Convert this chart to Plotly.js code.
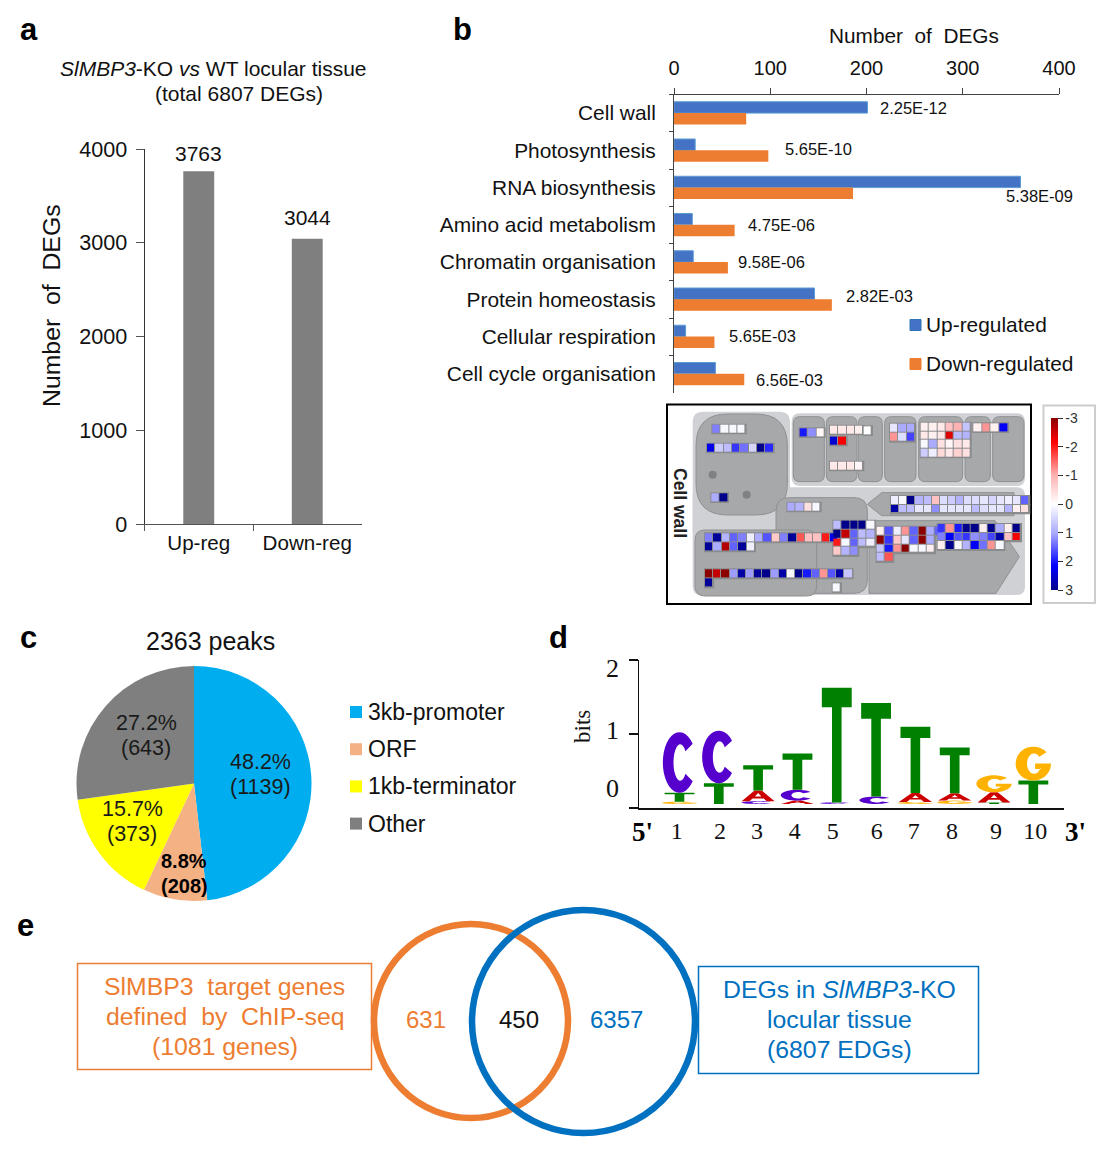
<!DOCTYPE html>
<html><head><meta charset="utf-8">
<script src="https://cdn.plot.ly/plotly-3.0.1.min.js"></script>
<style>html,body{margin:0;padding:0;background:#fff}</style></head>
<body><div id="chart" style="width:1108px;height:1150px"></div>
<script>
// ---------- DATA ----------
const degCategories = ['Up-reg', 'Down-reg'];
const degCounts = [3763, 3044];

const goTerms = ['Cell wall','Photosynthesis','RNA biosynthesis','Amino acid metabolism','Chromatin organisation','Protein homeostasis','Cellular respiration','Cell cycle organisation'];
const goUp = [201, 22, 360, 19, 20, 146, 12, 43];
const goDown = [75, 98, 186, 63, 56, 164, 42, 73];
const goPvalues = ['2.25E-12','5.65E-10','5.38E-09','4.75E-06','9.58E-06','2.82E-03','5.65E-03','6.56E-03'];
const goSeries = ['Up-regulated','Down-regulated'];

const peakLabels = ['3kb-promoter','ORF','1kb-terminator','Other'];
const peakCounts = [1139, 208, 373, 643];
const peakPercents = ['48.2%','8.8%','15.7%','27.2%'];

const logoPositions = [1,2,3,4,5,6,7,8,9,10];
const logoTickText = ['1','2','3','4','5','6','7','8','9','10'];
const bitsA = [0, 0, .146, .045, 0, 0, .12, .10, .137, 0];
const bitsC = [.82, .71, .036, .146, .02, .10, 0, 0, 0, 0];
const bitsG = [.03, 0, 0, 0, 0, 0, .027, .045, .23, .46];
const bitsT = [.12, .28, .34, .49, 1.55, 1.265, .895, .616, .02, .315];

const vennCounts = [631, 450, 6357];

// MapMan cell-wall fold changes as labelled on the colour key (negative = red, positive = blue)
const _ = null;
const bin01 = [[1.3,.1,.1,.1]];
const bin02 = [[2.3,.6,.8,1.8,1.4,.5,3,1.9]];
const bin03 = [[1,3]];
const bin04 = [[2,1.2,-.1]];
const bin05 = [[-.3,-.3,-.3,-.2]];
const bin06 = [[0]];
const bin07 = [[2.5,-2.2]];
const bin08 = [[-.3,-.3,-.3,-.1]];
const bin09 = [[.3,1,1],[-1.2,.4,1.7]];
const bin10 = [[-.2,-.2,-.3,-.8,-1,.7],[-.3,-.2,-.3,-2.4,.8,.9],[.1,1,-.4,-.1,-.4,-.3],[.6,.2,-.5,-.3,-.6,-.4]];
const bin11 = [[-.2,-1.2,-.2,2.2]];
const bin12 = [[.2,.1,3,.9,.8,-.8,.4,.6,.9,.4,.4,.3,.5,.3,.2,.3,1.5],[2.8,.8,.8,.3,.3,1.2,.3,.3,.3,.3,.8,.4,.3,.3,.9,-.2,-.4]];
const bin13 = [[1,.9,-.4,.1]];
const bin14 = [[1.3,2.9,.9,1.5,1.3,.2,1,1.6,-.7,1.3,2.9,-1.6,-.8,-.8,-2,2.3],[2.9,1,-2.7,1.5,2.9,.2,_,_,_,_,_,_,_,_,_,_]];
const bin15 = [[-3,-2.6,-3,1.1,2.8,1.1,2.9,3,1.1,2.8,.1,3,2,1.5,-1.2,1.6,2.8,.7],[2.9,_,_,_,_,_,_,_,_,_,_,_,_,_,_,_,_,_]];
const bin16 = [[.1]];
const bin17 = [[.8,3,3,3,.1],[3,-2.6,1.5,.8,.9],[-2,.1,1.5,.8,.2],[-.7,.9,1.2,_,_]];
const bin18 = [[-.2,1.6,.2,-1.2,1.5,-3,1,1.5],[-3,1.8,-.7,.3,1.5,-3,1,_],[.7,2,-1.2,-3,.1,.1,-.2,_],[.8,-1.6,_,_,_,_,_,_]];
const bin19 = [[1.8,-1.2,2,3,3,-.2,3,1,-.2,3],[1.3,2.2,1.6,1.8,1.2,1.3,1.7,2.8,-.8,-2.2],[-.2,3,.1,.9,2.2,1.4,-1.2,.1,_,_]];
const foldTickVals = [-3,-2,-1,0,1,2,3];
const foldTickText = ['-3','-2','-1','0','1','2','3'];

// ---------- LAYOUT HELPERS ----------
const W = 1108, H = 1150;
const SANS = 'Liberation Sans, Arial, sans-serif', SERIF = 'Liberation Serif, Times New Roman, serif';
const nb = '\u00A0';
const domX = (a, b) => [a / W, b / W];
const domY = (top, bot) => [1 - bot / H, 1 - top / H];
const annotations = [], shapes = [];
function label(text, x, y, size, opt) {
  opt = opt || {};
  const anchor = opt.anchor || 'left';
  annotations.push({text, x: (anchor === 'left' ? x - 2 : x) / W, y: 1 - y / H, xref: 'paper', yref: 'paper', showarrow: false,
    xanchor: anchor, yanchor: 'middle', textangle: opt.angle || 0,
    font: {family: opt.family || SANS, size, color: opt.color || '#111'}});
}
function paperShape(type, x0, y0, x1, y1, style) {
  shapes.push(Object.assign({type, xref: 'paper', yref: 'paper', x0: x0 / W, x1: x1 / W, y0: 1 - y0 / H, y1: 1 - y1 / H, layer: 'below'}, style));
}

// ---------- PANEL LETTERS ----------
[['a',20,30],['b',453,30],['c',20,637],['d',549,637],['e',17,925]].forEach(p => label('<b>' + p[0] + '</b>', p[1], p[2], 31, {color:'#000'}));

// ---------- PANEL A ----------
label('<i>SlMBP3</i>-KO <i>vs</i> WT locular tissue', 60, 68, 21);
label('(total 6807 DEGs)', 155, 93, 21);
label(`Number${nb}${nb}of${nb}${nb}DEGs`, 51, 306, 24.8, {angle:-90, anchor:'center'});
const traces = [{
  type: 'bar', x: degCategories, y: degCounts, xaxis: 'x', yaxis: 'y', width: .285,
  marker: {color: '#7f7f7f'}, showlegend: false
}];
const countLift = [18, 21];
degCounts.forEach((v, i) => annotations.push({text:String(v), x:degCategories[i], y:v, xref:'x', yref:'y', yshift:countLift[i], showarrow:false,
  xanchor:'center', yanchor:'middle', font:{family:SANS, size:21, color:'#111'}}));

// ---------- PANEL B ----------
label(`Number${nb}${nb}of${nb}${nb}DEGs`, 914, 36, 20.8, {anchor:'center'});
const goColors = ['#4472C4', '#ED7D31'];
traces.push({type:'bar', orientation:'h', name:goSeries[0], y:goTerms, x:goUp, xaxis:'x2', yaxis:'y2', marker:{color:goColors[0], line:{color:'#5B9BD5', width:1}}, showlegend:false});
traces.push({type:'bar', orientation:'h', name:goSeries[1], y:goTerms, x:goDown, xaxis:'x2', yaxis:'y2', marker:{color:goColors[1]}, showlegend:false});
const pvalX = [880,785,1006,748,738,846,729,756], pvalY = [108,149,196,225,262,296,336,380];
goPvalues.forEach((p, i) => label(p, pvalX[i], pvalY[i], 16.5));
goSeries.forEach((s, i) => {
  const y = [325, 364][i];
  paperShape('rect', 910, y - 5.5, 921, y + 5.5, {fillcolor: goColors[i], line: {width: 1, color: i ? goColors[1] : '#2E75B6'}});
  label(s, 926, y - 1, 20.9);
});

// ---------- MAPMAN CELL WALL PANEL ----------
const mapRef = {xref: 'x5', yref: 'y5', layer: 'below'};
const LIGHT = '#cfd1d4', DARK = '#a7a8aa', EDGE = '#8f9092';
const rrect = (x0, y0, x1, y1, r) => `M${x0+r},${y0} L${x1-r},${y0} Q${x1},${y0} ${x1},${y0+r} L${x1},${y1-r} Q${x1},${y1} ${x1-r},${y1} L${x0+r},${y1} Q${x0},${y1} ${x0},${y1-r} L${x0},${y0+r} Q${x0},${y0} ${x0+r},${y0} Z`;
function region(path, fill, edge) {
  shapes.push(Object.assign({type: 'path', path, fillcolor: fill, line: {width: edge ? 1 : 0, color: edge || fill}}, mapRef));
}
paperShape('rect', 667, 404.5, 1031, 604, {fillcolor: '#fff', line: {color: '#000', width: 2}});
paperShape('rect', 1043.5, 405.5, 1095, 603, {fillcolor: '#fff', line: {color: '#cdcdcd', width: 2}});
region(rrect(98, 35, 390, 420, 30), LIGHT);
region(rrect(395, 40, 1095, 258, 25), LIGHT);
region(rrect(98, 262, 1095, 585, 25), LIGHT);
region(rrect(108, 42, 382, 345, 95), DARK, EDGE);
[[400,493],[499,591],[595,667],[674,768],[776,908],[915,991],[998,1092]].forEach(b => region(rrect(b[0], 50, b[1], 245, 20), DARK, EDGE));
region('M622,313 L665,278 L1062,278 L1062,347 L665,347 Z', DARK, EDGE);
region(rrect(348, 293, 622, 580, 40), DARK, EDGE);
region(rrect(105, 390, 470, 588, 30), DARK, EDGE);
region('M627,362 L1005,362 L1078,470 L1008,580 L627,580 Z', DARK, EDGE);
[[158,224],[260,284]].forEach(c => shapes.push(Object.assign({type:'circle', x0:c[0]-12, x1:c[0]+12, y0:c[1]-12, y1:c[1]+12, fillcolor:'#808184', line:{width:0}}, mapRef)));
label('<b>Cell wall</b>', 680, 503, 17.5, {angle: 90, anchor: 'center', color: '#222'});

// The key runs from dark red at its top (labelled -3) to dark blue at its bottom (labelled 3),
// so the plotted scale is the labelled value with its sign flipped.
const flip = v => (v === null ? null : -v);
const foldColors = [[0,'#00008b'],[.14,'#0000ff'],[.33,'#a9a9ff'],[.5,'#ffffff'],[.67,'#ffb0b0'],[.86,'#ff0000'],[1,'#8b0000']];
const binPlacement = [
  [bin01,157,74,25,26],[bin02,141,131,25,26],[bin03,154,280,25,26],[bin04,419,85,25,26],
  [bin05,510,77,25,26],[bin06,611,79,25,26],[bin07,510,110,25,26],[bin08,510,185,25,26],
  [bin09,690,71,25,27],[bin10,782,68,25,26],[bin11,940,70,26,26],[bin12,693,288,24.4,26],
  [bin13,382,308,25,26],[bin14,135,400,25,27],[bin15,135,508,24.6,27],[bin16,518,550,25,26],
  [bin17,520,362,25,26.5],[bin18,650,380,25,26.5],[bin19,833,372,25,26]
];
binPlacement.forEach((b, idx) => {
  const [z, x0, y0, cw, ch] = b;
  z.forEach((row, r) => {
    const n = row.filter(v => v !== null).length;
    shapes.push(Object.assign({type:'rect', x0:x0-3, x1:x0+n*cw+3, y0:y0+r*ch-3, y1:y0+(r+1)*ch+3, fillcolor:'#8a8b8d', line:{width:0}}, mapRef));
  });
  const t = {type:'heatmap', z: z.map(row => row.map(flip)), x0:x0+cw/2, dx:cw, y0:y0+ch/2, dy:ch, xaxis:'x5', yaxis:'y5', zmin:-3, zmax:3,
    colorscale: foldColors, xgap:1, ygap:1, hoverongaps:false, showscale:false};
  if (idx === 0) {
    t.showscale = true;
    t.colorbar = {x:1051/W, xanchor:'left', xpad:0, y:1-504/H, yanchor:'middle', ypad:0, len:172, lenmode:'pixels',
      thickness:7, thicknessmode:'pixels', outlinewidth:0, tickmode:'array', tickvals:foldTickVals.map(v => -v), ticktext:foldTickText,
      ticks:'outside', ticklen:5, tickcolor:'#333', tickfont:{family:SANS, size:14, color:'#333'}};
  }
  traces.push(t);
});

// ---------- PANEL C ----------
label('2363' + ' peaks', 210, 641, 25, {anchor: 'center'});
const pieColors = ['#00AEEF','#F4B183','#FFFF00','#7F7F7F'];
traces.push({type:'pie', values:peakCounts, labels:peakLabels, sort:false, direction:'clockwise', rotation:0,
  marker:{colors:pieColors, line:{width:0}}, textinfo:'none', showlegend:false,
  domain:{x:domX(76.5, 311.5), y:domY(666, 901)}});
const pieLabelX = [260,184,132,146], pieLabelY = [762,861,809,723];
peakCounts.forEach((c, i) => {
  const b = i === 1;
  const w = s => b ? '<b>' + s + '</b>' : s;
  label(w(peakPercents[i]), pieLabelX[i], pieLabelY[i], b ? 20 : 21.5, {anchor:'center', color:b?'#000':'#1a1a1a'});
  label(w('(' + c + ')'), pieLabelX[i], pieLabelY[i] + 24.5, b ? 20 : 21.5, {anchor:'center', color:b?'#000':'#1a1a1a'});
});
peakLabels.forEach((s, i) => {
  const y = 712 + i * 37.2;
  paperShape('rect', 350, y - 6, 362, y + 6, {fillcolor: pieColors[i], line: {width: 0}});
  label(s, 368, y, 23);
});

// ---------- PANEL D ----------
const LOGO_BASE = .055;
const letterWidth = {A:.84, C:.85, G:.9, T:.76};
const letterColor = {A:'#cc0000', C:'#5500cc', G:'#ffb300', T:'#008000'};
function arc(cx, cy, rx, ry, a0, a1, n) {
  const out = [];
  for (let i = 0; i <= n; i++) { const a = (a0 + (a1 - a0) * i / n) * Math.PI / 180; out.push([cx + rx * Math.cos(a), cy + ry * Math.sin(a)]); }
  return out;
}
const glyphs = {
  T: [[[0,1],[1,1],[1,.83],[.66,.83],[.66,0],[.34,0],[.34,.83],[0,.83]]],
  A: [[[0,0],[.39,1],[.61,1],[1,0],[.76,0],[.67,.26],[.33,.26],[.24,0]], [[.4,.44],[.6,.44],[.5,.76]]],
  C: [arc(.5,.5,.5,.5,38,322,28).concat(arc(.52,.5,.2,.3,322,38,20))],
  G: [arc(.5,.5,.5,.5,42,360,30).concat([[1,.5],[.55,.5],[.55,.34],[.72,.34]]).concat(arc(.52,.5,.2,.3,335,42,18))]
};
const logoBits = {A: bitsA, C: bitsC, G: bitsG, T: bitsT};
const logoTotals = [];
logoPositions.forEach((pos, i) => {
  const stack = Object.keys(logoBits).map(k => [k, logoBits[k][i]]).filter(s => s[1] > 0).sort((a, b) => a[1] - b[1]);
  let base = LOGO_BASE;
  stack.forEach(([k, h]) => {
    const width = letterWidth[k];
    const path = glyphs[k].map(poly => 'M' + poly.map(p => (pos + (p[0] - .5) * width).toFixed(3) + ',' + (base + p[1] * h).toFixed(4)).join(' L') + ' Z').join(' ');
    shapes.push({type:'path', xref:'x4', yref:'y4', path, fillcolor:letterColor[k], line:{width:0}, layer:'above'});
    base += h;
  });
  logoTotals.push(base);
});
traces.push({type:'scatter', mode:'markers', x:logoPositions, y:logoTotals, xaxis:'x4', yaxis:'y4', marker:{size:1, opacity:0}, showlegend:false, hoverinfo:'skip'});
[['2',612,668],['1',612,730],['0',612,788]].forEach(t => label(t[0], t[1], t[2], 26, {family:SERIF, anchor:'center', color:'#111'}));
label('bits', 582, 727, 23, {family:SERIF, angle:-90, anchor:'center'});
label("<b>5'</b>", 642, 832, 27, {family:SERIF, anchor:'center', color:'#000'});
label("<b>3'</b>", 1075, 832, 27, {family:SERIF, anchor:'center', color:'#000'});

// ---------- PANEL E ----------
const ORANGE = '#ED7D31', BLUE = '#0070C0';
paperShape('rect', 77.5, 963.5, 371.5, 1069.5, {line:{color:ORANGE, width:1.5}, fillcolor:'rgba(0,0,0,0)'});
paperShape('rect', 698.5, 966.5, 978.5, 1073.5, {line:{color:BLUE, width:1.5}, fillcolor:'rgba(0,0,0,0)'});
paperShape('circle', 374, 924, 568, 1118, {line:{color:ORANGE, width:6.5}, fillcolor:'rgba(0,0,0,0)'});
paperShape('circle', 472, 910, 695, 1133, {line:{color:BLUE, width:6.5}, fillcolor:'rgba(0,0,0,0)'});
const vennX = [426, 519, 616], vennColors = [ORANGE, '#111', BLUE];
vennCounts.forEach((v, i) => label(String(v), vennX[i], 1019.5, 24, {anchor:'center', color:vennColors[i]}));
[`SlMBP3${nb}${nb}target genes`, `defined${nb}${nb}by${nb}${nb}ChIP-seq`, '(1081 genes)'].forEach((s, i) => label(s, 224.5, 986.5 + i * 30, 24.8, {anchor:'center', color:ORANGE}));
['DEGs in <i>SlMBP3</i>-KO', 'locular tissue', '(6807 EDGs)'].forEach((s, i) => label(s, 839, 989.5 + i * 30, 24.8, {anchor:'center', color:BLUE}));

// ---------- LAYOUT ----------
const layout = {
  width: W, height: H, margin: {l:0, r:0, t:0, b:0, autoexpand:false},
  paper_bgcolor: '#fff', plot_bgcolor: 'rgba(0,0,0,0)', showlegend: false, hovermode: false,
  font: {family: SANS, color: '#111'}, barmode: 'group', bargap: .39, bargroupgap: 0,
  annotations, shapes,
  xaxis: {domain: domX(144.5, 361.5), anchor:'y', type:'category', tickson:'boundaries', ticks:'outside', ticklen:6, tickcolor:'#555', showline:true, linecolor:'#555', linewidth:1, showgrid:false, zeroline:false, tickfont:{size:20.6, color:'#111'}, ticklabelstandoff:0},
  yaxis: {domain: domY(149, 524), anchor:'x', range:[0,4000], tickvals:[0,1000,2000,3000,4000], ticks:'outside', ticklen:8, tickcolor:'#555', showline:true, linecolor:'#333', linewidth:1, showgrid:false, zeroline:false, tickfont:{size:21.6, color:'#111'}, ticklabelstandoff:4},
  xaxis2: {domain: domX(674, 1059), anchor:'y2', side:'top', range:[0,400], tickvals:[0,100,200,300,400], ticks:'outside', ticklen:6, tickcolor:'#444', showline:true, linecolor:'#444', linewidth:1, showgrid:false, zeroline:false, tickfont:{size:20, color:'#111'}, ticklabelstandoff:5},
  yaxis2: {domain: domY(94.5, 392.5), anchor:'x2', type:'category', autorange:'reversed', tickson:'boundaries', ticks:'outside', ticklen:4, tickcolor:'#444', showline:true, linecolor:'#444', linewidth:1, showgrid:false, zeroline:false, tickfont:{size:20.9, color:'#111'}, ticklabelstandoff:13},
  xaxis4: {domain: domX(639.3, 1064), anchor:'y4', range:[-.023,10.78], tickmode:'array', tickvals:[.93,2.03,2.97,3.93,4.9,6.02,6.96,7.93,9.05,10.05], ticktext:logoTickText, ticks:'', showline:true, linecolor:'#111', linewidth:1.5, showgrid:false, zeroline:false, tickfont:{family:SERIF, size:24, color:'#111'}, ticklabelstandoff:1},
  yaxis4: {domain: domY(660, 808), anchor:'x4', range:[0,2], tickvals:[0,1,2], ticks:'outside', ticklen:9, tickwidth:1.5, tickcolor:'#111', showticklabels:false, showline:true, linecolor:'#111', linewidth:1.5, showgrid:false, zeroline:false},
  xaxis5: {domain: domX(660, 1108), anchor:'y5', range:[0,1344], visible:false, fixedrange:true},
  yaxis5: {domain: domY(400, 610), anchor:'x5', range:[630,0], visible:false, fixedrange:true}
};
Plotly.newPlot('chart', traces, layout, {displayModeBar:false, staticPlot:true});
</script></body></html>
